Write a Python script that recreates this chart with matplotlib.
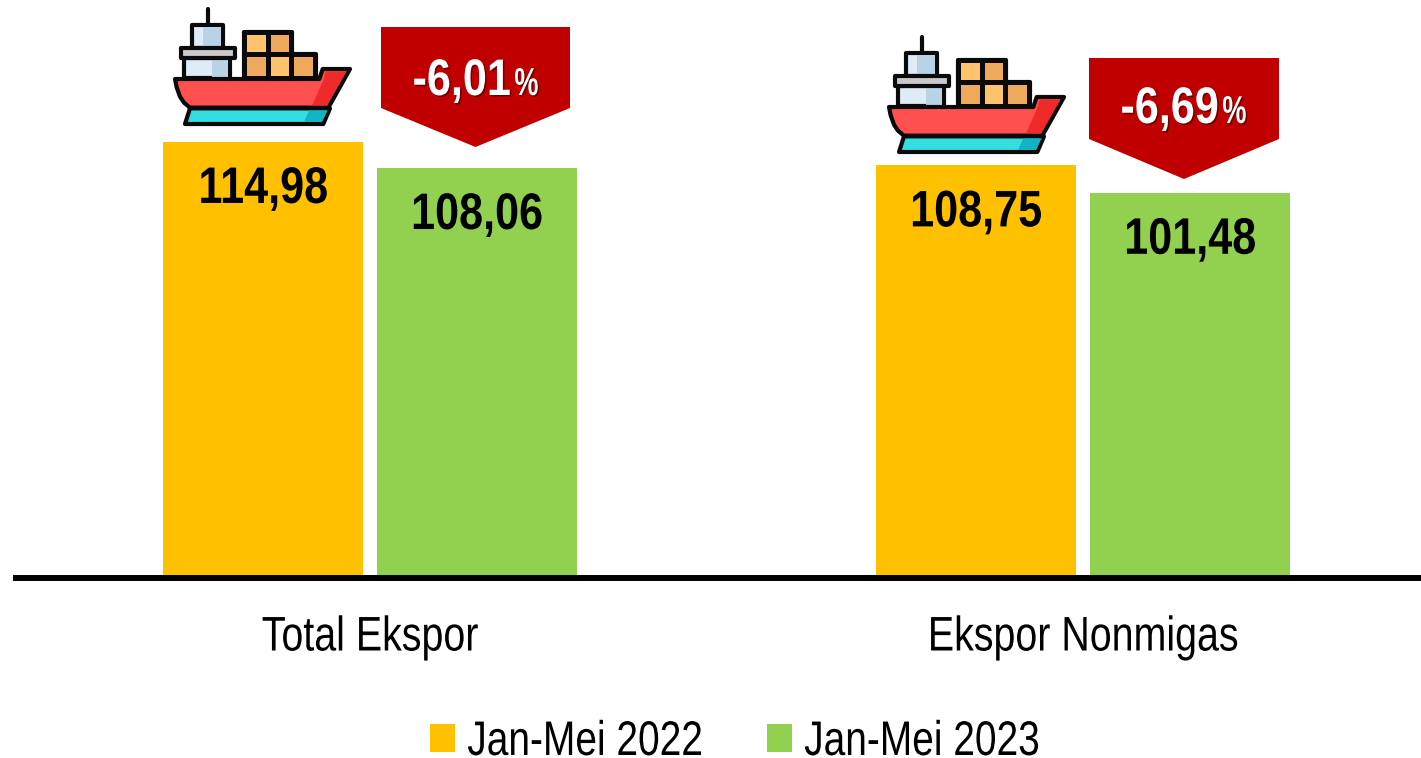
import matplotlib
matplotlib.use('Agg')
import matplotlib.pyplot as plt
import matplotlib.patheffects as pe
from matplotlib.colors import to_rgb
from matplotlib.patches import Polygon
from matplotlib.transforms import Affine2D
import numpy as np

categories = ['Total Ekspor', 'Ekspor Nonmigas']
series_names = ['Jan-Mei 2022', 'Jan-Mei 2023']
vals_2022 = [114.98, 108.75]
vals_2023 = [108.06, 101.48]
changes = ['-6,01', '-6,69']

plt.rcParams['font.family'] = ['Liberation Sans', 'DejaVu Sans']


# the reference uses a narrow font, so squeeze the glyphs sideways when drawn
class Squeeze(pe.AbstractPathEffect):
    def __init__(self, s=0.82, anchor='center', shadow=None):
        super().__init__()
        self.s = s
        self.anchor = anchor
        self.shadow = shadow

    def draw_path(self, renderer, gc, tpath, affine, rgbFace=None):
        ext = tpath.get_extents(affine)
        c = {'left': ext.x0, 'right': ext.x1, 'center': (ext.x0 + ext.x1) / 2}[self.anchor]
        t = affine + Affine2D().translate(-c, 0).scale(self.s, 1).translate(c, 0)
        if self.shadow:
            renderer.draw_path(gc, tpath, t + Affine2D().translate(1.5, -1.5), to_rgb(self.shadow))
        renderer.draw_path(gc, tpath, t, rgbFace)


W, H = 1421, 758
fig = plt.figure(figsize=(W / 100, H / 100), dpi=100)
ax = fig.add_axes([13 / W, 1 - 578 / H, 1 - 13 / W, 578 / H])

x = np.arange(2)
w = 200 / 713
off = 107 / 713
b1 = ax.bar(x - off, vals_2022, w, color='#FFC000', label=series_names[0])
b2 = ax.bar(x + off, vals_2023, w, color='#92D050', label=series_names[1])

ax.set_xlim(-357 / 713, 1051 / 713)
ax.set_ylim(-0.8, 152.7)
for s in ['top', 'left', 'right']:
    ax.spines[s].set_visible(False)
ax.spines['bottom'].set_linewidth(4.3)
ax.spines['bottom'].set_capstyle('butt')
ax.set_yticks([])
ax.set_xticks(x)
ax.set_xticklabels(categories, fontsize=35)
ax.tick_params(axis='x', length=0, pad=27)
for t in ax.get_xticklabels():
    t.set_path_effects([Squeeze(0.81)])

for bars in (b1, b2):
    for b in bars:
        v = b.get_height()
        ax.annotate(f'{v:.2f}'.replace('.', ','), (b.get_x() + b.get_width() / 2, v),
                    xytext=(0, -16.5), textcoords='offset points', ha='center', va='top',
                    fontsize=37, fontweight='bold', color='black', path_effects=[Squeeze(0.84)])

leg = fig.legend(loc='lower left', bbox_to_anchor=(430 / W, 1 - 765 / H), ncol=2, frameon=False,
                 fontsize=35, handlelength=0.514, handleheight=0.514, handletextpad=0.25,
                 columnspacing=0.1, borderpad=0, borderaxespad=0)
for t in leg.get_texts():
    t.set_path_effects([Squeeze(0.80, 'left')])

# overlay in image pixels for the arrows and ship icons
ov = fig.add_axes([0, 0, 1, 1], facecolor='none')
ov.set_xlim(0, W)
ov.set_ylim(H, 0)
ov.axis('off')


def ship(dx, dy):
    def z(pts):
        return [(160 + px / 3 + dx, py / 3 + dy) for px, py in pts]

    def box(x0, y0, x1, y1):
        return z([(x0, y0), (x1, y0), (x1, y1), (x0, y1)])

    edge = dict(ec='#0A0A0A', lw=3, joinstyle='round')
    flat = dict(ec='none')
    ov.plot(*zip(*z([(143, 28), (143, 75)])), color='#0A0A0A', lw=3, solid_capstyle='round')
    # cabins
    ov.add_patch(Polygon(box(97, 75, 190, 145), fc='#DFECF8', **edge))
    ov.add_patch(Polygon(box(130, 82, 184, 140), fc='#B9D3E6', **flat))
    ov.add_patch(Polygon(box(72, 175, 210, 235), fc='#DFECF8', **edge))
    ov.add_patch(Polygon(box(155, 180, 205, 230), fc='#B9D3E6', **flat))
    ov.add_patch(Polygon(box(62, 145, 225, 175), fc='#C9C9C9', **edge))
    # containers
    ov.add_patch(Polygon(box(252, 95, 395, 235), fc='#0A0A0A', **edge))
    ov.add_patch(Polygon(box(395, 163, 467, 235), fc='#0A0A0A', **edge))
    for c, (x0, y0, x1, y1) in [('#FFC36E', (260, 105, 318, 157)), ('#EFA95C', (332, 105, 388, 157)),
                                ('#EFA95C', (260, 172, 318, 228)), ('#FFC36E', (332, 172, 388, 228)),
                                ('#EFA95C', (402, 172, 460, 228))]:
        ov.add_patch(Polygon(box(x0, y0, x1, y1), fc=c, **flat))
    # keel
    ov.add_patch(Polygon(z([(90, 325), (510, 325), (490, 372), (75, 372)]), fc='#33DDE0', **edge))
    ov.add_patch(Polygon(z([(448, 331), (503, 331), (486, 366), (432, 366)]), fc='#12B3C3', **flat))
    # hull
    ov.add_patch(Polygon(z([(45, 237), (478, 237), (488, 207), (570, 207), (505, 323), (90, 323),
                            (72, 308), (60, 290), (50, 262)]),
                         fc='#FF5050', **edge))
    ov.add_patch(Polygon(z([(490, 240), (497, 214), (560, 214), (500, 317), (456, 317)]), fc='#EE2A2A', **flat))
    ov.plot(*zip(*z([(90, 323), (505, 323)])), color='#0A0A0A', lw=3)


def arrow(x0, x1, top, shoulder, tip, label, base):
    mid = x0 + (x1 - x0) * 0.5
    ov.add_patch(Polygon([(x0, top), (x1, top), (x1, shoulder), (mid, tip), (x0, shoulder)],
                         fc='#C00000', ec='none'))
    # right aligned so the wide layout box of the number stays clear of the %
    ov.text(x0 + 130, base, label, ha='right', va='baseline', fontsize=37, fontweight='bold',
            color='white', path_effects=[Squeeze(0.84, 'right', '#6E0000')])
    ov.text(x0 + 133, base, '%', ha='left', va='baseline', fontsize=28, fontweight='bold',
            color='white', path_effects=[Squeeze(0.7, 'left', '#6E0000')])


ship(0, 0)
ship(714, 28)
arrow(381, 570, 27, 108, 147, changes[0], 95)
arrow(1089, 1279, 58, 139, 179, changes[1], 123)

fig.savefig('out.png', dpi=100)
